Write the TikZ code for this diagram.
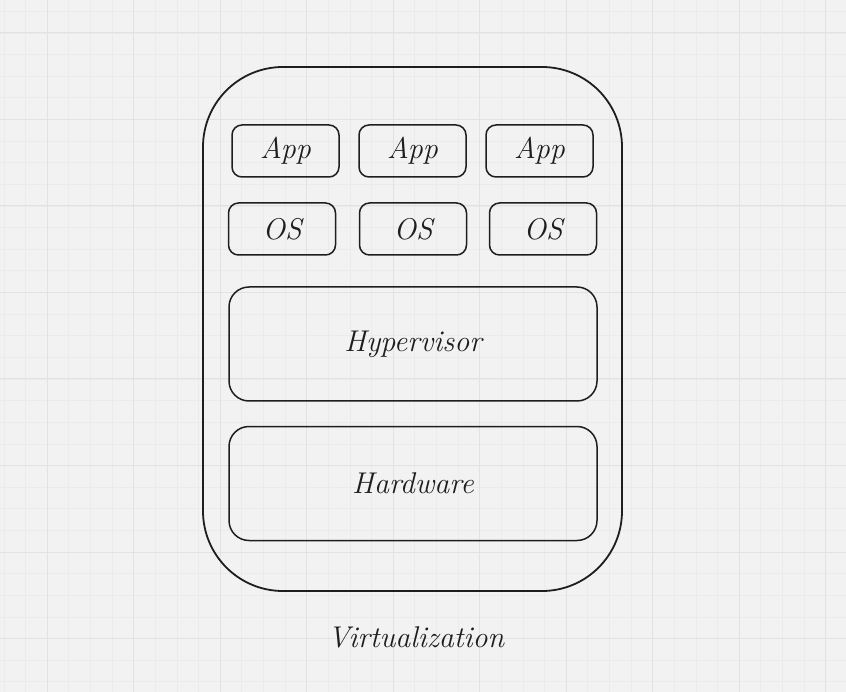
\documentclass[tikz,border=0pt]{standalone}
\usepackage{tikz}
\usetikzlibrary{positioning}
\definecolor{ink}{HTML}{1E1E1E}
\definecolor{paper}{HTML}{F2F2F2}
\definecolor{minorline}{HTML}{EBEBEB}
\definecolor{majorline}{HTML}{E2E2E2}
\tikzset
{
    layer/.style    = {draw=ink, line width=1.5pt, rounded corners=10pt, align=center, text=ink,
                       font=\fontsize{30}{34}\selectfont\itshape},
    guest/.style    = {layer, minimum width=107pt, minimum height=52pt},
    platform/.style = {layer, rounded corners=20pt, minimum width=368pt, minimum height=114pt},
    host/.style     = {draw=ink, line width=1.8pt, rounded corners=80pt, minimum width=419pt, minimum height=524pt},
    caption/.style  = {text=ink, font=\fontsize{30}{34}\selectfont\itshape}
}
\begin{document}
\begin{tikzpicture}[x=1pt, y=-1pt]
    \useasboundingbox (0,0) rectangle (846,692);
    \fill[paper] (0,0) rectangle (846,692);
    % grid
    \foreach \i in {0,...,39}
    {
        \draw[minorline, line width=0.8pt] (4+\i*21.625,0) -- ++(0,692);
    }
    \foreach \j in {0,...,32}
    {
        \draw[minorline, line width=0.8pt] (0,11.4+\j*21.625) -- ++(846,0);
    }
    \foreach \i in {0,...,9}
    {
        \draw[majorline, line width=1pt] (47.25+\i*86.5,0) -- ++(0,692);
    }
    \foreach \j in {0,...,7}
    {
        \draw[majorline, line width=1pt] (0,33+\j*86.5) -- ++(846,0);
    }

    \node [host] (machine) at (412.5,329) {};

    \node [guest] (app1) at (285.5,151) {App};
    \node [guest] (app2) at (412.5,151) {App};
    \node [guest] (app3) at (539.5,151) {App};

    \node [guest] (os1) at (282,229) {OS};
    \node [guest] (os2) at (413,229) {OS};
    \node [guest] (os3) at (543,229) {OS};

    \node [platform] (hypervisor) at (413,344) {Hypervisor};
    \node [platform] (hardware) at (413,483.5) {Hardware};

    \node [caption] (title) at (416,637) {Virtualization};
\end{tikzpicture}
\end{document}
